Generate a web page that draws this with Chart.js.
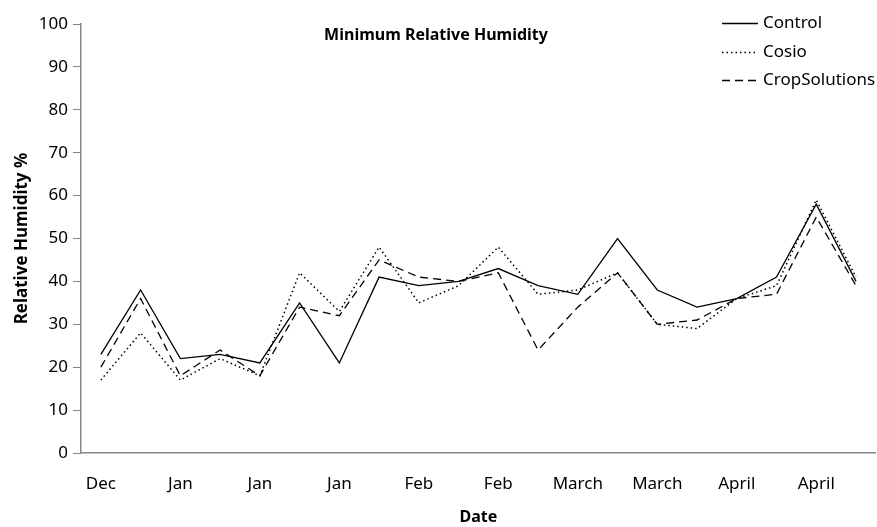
<!DOCTYPE html>
<html>
<head>
<meta charset="utf-8">
<script src="https://cdn.jsdelivr.net/npm/chart.js@4.4.1/dist/chart.umd.min.js"></script>
<style>
    html, body { margin: 0; padding: 0; background: #fff; }
    #wrap { width: 877px; height: 527px; }
</style>
</head>
<body>
<div id="wrap"><canvas id="rh_chart" width="877" height="527"></canvas></div>
<script>
// x categories (only every other one is labelled on the axis)
const dateLabels = [
    'Dec', '', 'Jan', '', 'Jan', '', 'Jan', '', 'Feb', '',
    'Feb', '', 'March', '', 'March', '', 'April', '', 'April', ''
];

const controlValues = [23, 38, 22, 23, 21, 35, 21, 41, 39, 40, 43, 39, 37, 50, 38, 34, 36, 41, 58, 40];
const cosioValues   = [17, 28, 17, 22, 18, 42, 33, 48, 35, 39, 48, 37, 38, 42, 30, 29, 36, 39, 59, 41];
const cropValues    = [20, 36, 18, 24, 18, 34, 32, 45, 41, 40, 42, 24, 34, 42, 30, 31, 36, 37, 55, 39];

const yTicks = [0, 10, 20, 30, 40, 50, 60, 70, 80, 90, 100];

const FONT = '"Noto Sans", "Open Sans", sans-serif';
const AXIS_GREY = '#868686';

// title + legend sit inside the plot area, so draw them by hand
const overlayPlugin = {
    id: 'overlay',
    afterDraw(chart) {
        const ctx = chart.ctx;
        ctx.save();
        ctx.fillStyle = '#000';
        ctx.font = 'bold 16px ' + FONT;
        ctx.textAlign = 'center';
        ctx.textBaseline = 'middle';
        ctx.fillText('Minimum Relative Humidity', 436, 35);

        const rows = [23, 52, 80];
        ctx.font = '17px ' + FONT;
        ctx.textAlign = 'left';
        chart.data.datasets.forEach((ds, i) => {
            const y = rows[i] + 0.5;
            ctx.beginPath();
            ctx.lineWidth = ds.borderWidth;
            ctx.strokeStyle = '#000';
            ctx.setLineDash(ds.borderDash || []);
            ctx.moveTo(722, y);
            ctx.lineTo(758, y);
            ctx.stroke();
            ctx.setLineDash([]);
            ctx.fillText(ds.label, 763, rows[i]);
        });
        ctx.restore();
    }
};

const ctx = document.getElementById('rh_chart').getContext('2d');
const rhChart = new Chart(ctx, {
    type: 'line',
    data: {
        labels: dateLabels,
        datasets: [
            {
                label: 'Control',
                data: controlValues,
                borderColor: '#000',
                borderWidth: 1.3,
                pointRadius: 0,
                tension: 0
            },
            {
                label: 'Cosio',
                data: cosioValues,
                borderColor: '#000',
                borderWidth: 1.5,
                borderDash: [1.5, 3],
                pointRadius: 0,
                tension: 0
            },
            {
                label: 'CropSolutions',
                data: cropValues,
                borderColor: '#000',
                borderWidth: 1.3,
                borderDash: [8, 5],
                pointRadius: 0,
                tension: 0
            }
        ]
    },
    options: {
        responsive: false,
        animation: false,
        layout: { padding: { top: 24, right: 0, bottom: 0, left: 0 } },
        plugins: {
            legend: { display: false },
            title: { display: false },
            tooltip: { enabled: false }
        },
        scales: {
            x: {
                offset: true,
                grid: { display: true, drawOnChartArea: false, drawTicks: false },
                border: { display: true, color: AXIS_GREY, width: 1.5 },
                ticks: {
                    autoSkip: false,
                    maxRotation: 0,
                    padding: 21,
                    color: '#000',
                    font: { family: FONT, size: 17 }
                },
                title: {
                    display: true,
                    text: 'Date',
                    color: '#000',
                    font: { family: FONT, size: 16, weight: 'bold' },
                    padding: { top: 0, bottom: 0 }
                },
                afterFit(scale) { scale.height = 74; }
            },
            y: {
                min: 0,
                max: 100,
                afterBuildTicks(scale) {
                    scale.ticks = yTicks.map(v => ({ value: v }));
                },
                grid: {
                    display: true,
                    drawOnChartArea: false,
                    drawTicks: true,
                    tickLength: 8,
                    color: AXIS_GREY
                },
                border: { display: true, color: AXIS_GREY, width: 1.5 },
                ticks: {
                    padding: 5,
                    color: '#000',
                    font: { family: FONT, size: 17 }
                },
                title: {
                    display: true,
                    text: 'Relative Humidity %',
                    color: '#000',
                    font: { family: FONT, size: 17, weight: 'bold' },
                    padding: { top: 12, bottom: 0 }
                },
                afterFit(scale) { scale.width = 81; }
            }
        }
    },
    plugins: [overlayPlugin]
});
</script>
</body>
</html>
